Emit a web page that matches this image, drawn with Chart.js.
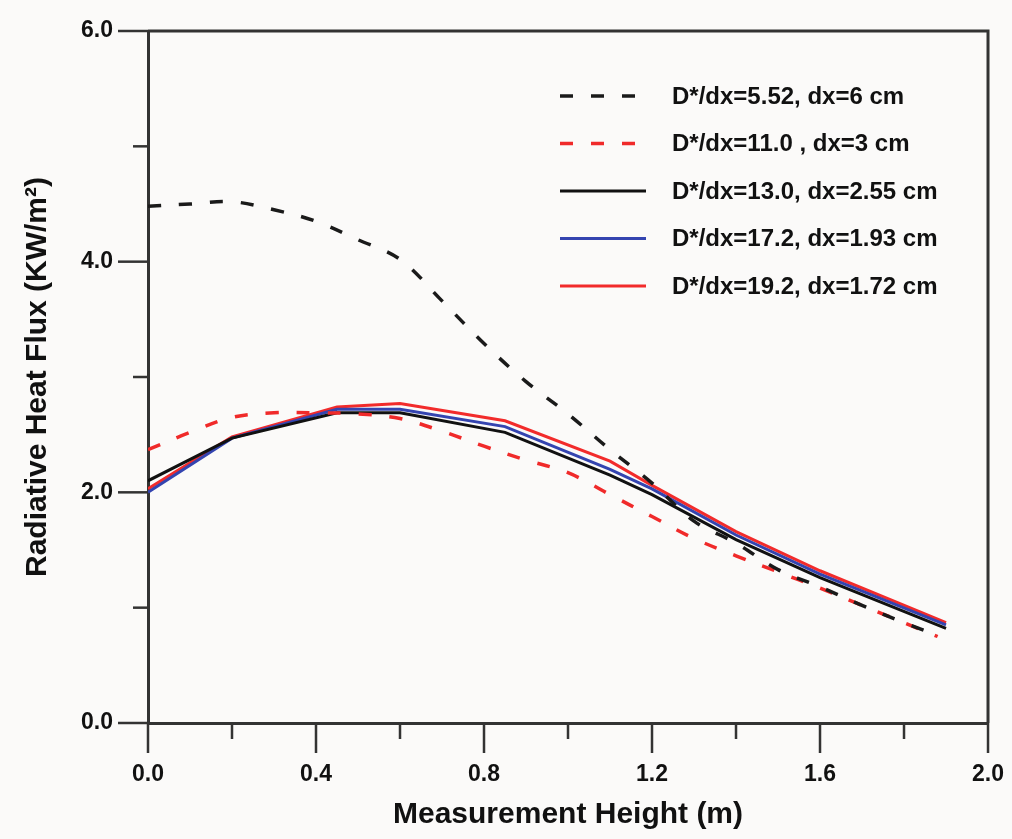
<!DOCTYPE html>
<html>
<head>
<meta charset="utf-8">
<script src="https://cdn.jsdelivr.net/npm/chart.js@4"></script>
<style>
  html, body { margin: 0; padding: 0; background: #fbfaf9; }
  canvas { display: block; }
</style>
</head>
<body>
<canvas id="flux" width="1012" height="839"></canvas>
<script>
// measurement heights (m)
const xDashed = [0, 0.1, 0.2, 0.3, 0.4, 0.5, 0.6, 0.7, 0.8, 0.9, 1.0, 1.1, 1.2, 1.3, 1.4, 1.5, 1.6, 1.7, 1.8, 1.88];
const xSolid = [0, 0.2, 0.45, 0.6, 0.85, 1.1, 1.2, 1.4, 1.6, 1.9];

// radiative heat flux (kW/m2)
const flux552 = [4.48, 4.50, 4.52, 4.45, 4.35, 4.19, 4.02, 3.66, 3.29, 2.96, 2.68, 2.37, 2.08, 1.75, 1.56, 1.33, 1.18, 1.02, 0.87, 0.76];
const flux110 = [2.37, 2.52, 2.65, 2.69, 2.69, 2.68, 2.64, 2.53, 2.40, 2.28, 2.17, 1.98, 1.79, 1.60, 1.45, 1.31, 1.17, 1.02, 0.87, 0.75];
const flux130 = [2.10, 2.47, 2.69, 2.69, 2.52, 2.15, 1.98, 1.59, 1.26, 0.82];
const flux172 = [2.00, 2.47, 2.72, 2.72, 2.57, 2.20, 2.03, 1.63, 1.29, 0.85];
const flux192 = [2.03, 2.48, 2.74, 2.77, 2.62, 2.27, 2.06, 1.66, 1.32, 0.87];

const labels = [
  'D*/dx=5.52, dx=6 cm',
  'D*/dx=11.0 , dx=3 cm',
  'D*/dx=13.0, dx=2.55 cm',
  'D*/dx=17.2, dx=1.93 cm',
  'D*/dx=19.2, dx=1.72 cm'
];

const xMajor = [0, 0.4, 0.8, 1.2, 1.6, 2.0];
const yMajor = [0, 2, 4, 6];

function pts(xs, ys) { return xs.map((x, i) => ({ x: x, y: ys[i] })); }

const axisColor = '#333';
const fontFamily = '"Liberation Sans", Arial, sans-serif';

// frame, tick marks and legend drawn on top of the scales
const decor = {
  id: 'decor',
  afterDatasetsDraw(chart) {
    const { ctx, chartArea: a, scales } = chart;
    ctx.save();
    ctx.strokeStyle = axisColor;
    ctx.lineWidth = 3;
    ctx.beginPath();
    ctx.moveTo(a.left, a.top); ctx.lineTo(a.right, a.top); ctx.lineTo(a.right, a.bottom);
    ctx.stroke();

    ctx.lineWidth = 2.5;
    scales.x.ticks.forEach(t => {
      const px = scales.x.getPixelForValue(t.value);
      const major = xMajor.some(m => Math.abs(m - t.value) < 1e-6);
      ctx.beginPath();
      ctx.moveTo(px, a.bottom);
      ctx.lineTo(px, a.bottom + (major ? 30 : 16));
      ctx.stroke();
    });
    scales.y.ticks.forEach(t => {
      const py = scales.y.getPixelForValue(t.value);
      const major = yMajor.some(m => Math.abs(m - t.value) < 1e-6);
      ctx.beginPath();
      ctx.moveTo(a.left, py);
      ctx.lineTo(a.left - (major ? 30 : 15), py);
      ctx.stroke();
    });

    // legend
    ctx.font = 'bold 24px ' + fontFamily;
    ctx.textBaseline = 'middle';
    ctx.fillStyle = '#111';
    chart.data.datasets.forEach((ds, i) => {
      const y = 96 + i * 47.5;
      ctx.beginPath();
      ctx.strokeStyle = ds.borderColor;
      ctx.lineWidth = ds.borderWidth;
      ctx.setLineDash(ds.borderDash || []);
      ctx.moveTo(560, y);
      ctx.lineTo(646, y);
      ctx.stroke();
      ctx.setLineDash([]);
      ctx.fillText(ds.label, 672, y + 1);
    });
    ctx.restore();
  }
};

new Chart(document.getElementById('flux').getContext('2d'), {
  type: 'line',
  data: {
    datasets: [
      { label: labels[0], data: pts(xDashed, flux552), borderColor: '#1a1a1a', borderWidth: 3.5, borderDash: [13, 18], tension: 0.35 },
      { label: labels[1], data: pts(xDashed, flux110), borderColor: '#f02a2a', borderWidth: 3.5, borderDash: [13, 18], tension: 0.35 },
      { label: labels[2], data: pts(xSolid, flux130), borderColor: '#111111', borderWidth: 3, tension: 0 },
      { label: labels[3], data: pts(xSolid, flux172), borderColor: '#3444b0', borderWidth: 3, tension: 0 },
      { label: labels[4], data: pts(xSolid, flux192), borderColor: '#f22b2b', borderWidth: 3, tension: 0 }
    ]
  },
  options: {
    responsive: false,
    animation: false,
    layout: { padding: { top: 31, right: 22, left: 0, bottom: 0 } },
    elements: { point: { radius: 0 } },
    plugins: { legend: { display: false }, tooltip: { enabled: false } },
    scales: {
      x: {
        type: 'linear',
        min: 0,
        max: 2.0,
        afterFit: s => { s.height = 116; },
        border: { display: true, color: axisColor, width: 3 },
        grid: { drawOnChartArea: false, drawTicks: true, tickLength: 30, tickColor: 'rgba(0,0,0,0)' },
        ticks: {
          stepSize: 0.2,
          autoSkip: false,
          maxRotation: 0,
          padding: 8,
          color: '#111',
          font: { family: fontFamily, size: 23, weight: 'bold' },
          callback: v => xMajor.some(m => Math.abs(m - v) < 1e-6) ? v.toFixed(1) : ''
        },
        title: {
          display: true,
          text: 'Measurement Height (m)',
          color: '#111',
          padding: { top: 0, bottom: 6 },
          font: { family: fontFamily, size: 30, weight: 'bold' }
        }
      },
      y: {
        min: 0,
        max: 6,
        afterFit: s => { s.width = 148; },
        border: { display: true, color: axisColor, width: 3 },
        grid: { drawOnChartArea: false, drawTicks: true, tickLength: 30, tickColor: 'rgba(0,0,0,0)' },
        ticks: {
          stepSize: 1,
          autoSkip: false,
          padding: 5,
          color: '#111',
          font: { family: fontFamily, size: 23, weight: 'bold' },
          callback: v => yMajor.includes(v) ? v.toFixed(1) : ''
        },
        title: {
          display: true,
          text: 'Radiative Heat Flux (KW/m²)',
          color: '#111',
          padding: { top: 20, bottom: 0 },
          font: { family: fontFamily, size: 30, weight: 'bold' }
        }
      }
    }
  },
  plugins: [decor]
});
</script>
</body>
</html>
